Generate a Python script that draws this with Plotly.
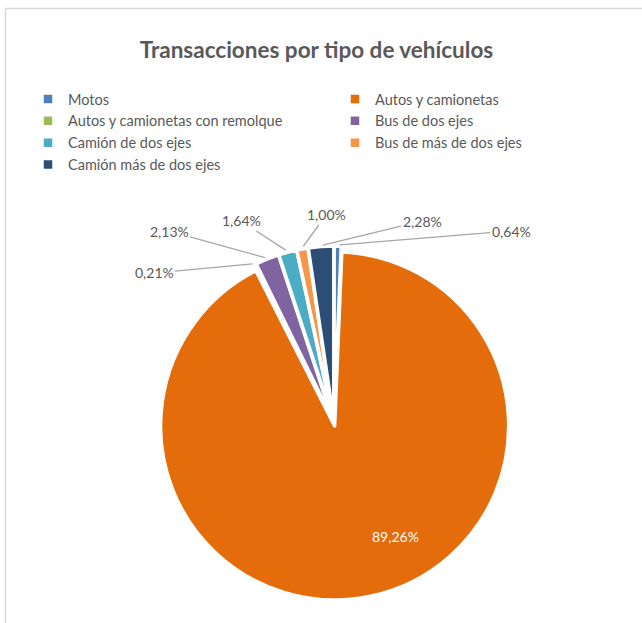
import math
import plotly.graph_objects as go

# ---- data ----
categories = ["Motos", "Autos y camionetas", "Autos y camionetas con remolque",
              "Bus de dos ejes", "Camión de dos ejes", "Bus de más de dos ejes",
              "Camión más de dos ejes"]
values = [0.64, 89.26, 0.21, 2.13, 1.64, 1.00, 2.28]
colors = ["#4F81BD", "#E46C0A", "#9BBB59", "#8064A2", "#4BACC6", "#F79646", "#2C4D75"]
value_labels = [f"{v:.2f}".replace(".", ",") + "%" for v in values]

# ---- layout constants ----
W, H = 642, 623
PULL = 0.017
CX, CY, HALF = 334, 423, 177          # pie domain centre / half size (px)
GREY = "#595959"
FONT = "Lato"
# label centres in px (layout placement of the data labels)
label_pos = [(511, 231), (395, 547), (154, 273), (169, 231), (241, 221), (326, 215), (422, 221)]

dom_x = [(CX - HALF) / W, (CX + HALF) / W]
dom_y = [1 - (CY + HALF) / H, 1 - (CY - HALF) / H]

fig = go.Figure(go.Pie(
    labels=categories, values=values, sort=False, direction="clockwise", rotation=0,
    marker=dict(colors=colors, line=dict(color="white", width=3.5)),
    pull=[PULL] * len(values), textinfo="none", hoverinfo="label+percent",
    domain=dict(x=dom_x, y=dom_y),
))

# geometry of slices to anchor leader lines
r = HALF / (1 + PULL)
total = sum(values)
cum = 0
annotations = []
for i, v in enumerate(values):
    mid = (cum + v / 2) / total * 2 * math.pi
    cum += v
    dx, dy = math.sin(mid), -math.cos(mid)
    pcx, pcy = CX + PULL * r * dx, CY + PULL * r * dy
    tx, ty = label_pos[i]
    if i == 1:
        annotations.append(dict(x=tx / W, y=1 - ty / H, xref="paper", yref="paper",
                                text=value_labels[i], showarrow=False,
                                font=dict(family=FONT, size=14, color="white")))
        continue
    hx, hy = pcx + (r + 1) * dx, pcy + (r + 1) * dy
    annotations.append(dict(x=hx / W, y=1 - hy / H, xref="paper", yref="paper",
                            text=value_labels[i], showarrow=True, arrowhead=0,
                            arrowwidth=1.3, arrowcolor="#A6A6A6", standoff=2,
                            ax=tx - hx, ay=ty - hy, axref="pixel", ayref="pixel",
                            font=dict(family=FONT, size=14, color=GREY)))

fig.update_layout(
    width=W, height=H, margin=dict(l=0, r=0, t=0, b=0),
    paper_bgcolor="white",
    title=dict(text="<b>Transacciones por tipo de vehículos</b>", x=0.493, xanchor="center",
               y=1 - 50 / H, yanchor="middle",
               font=dict(family=FONT, size=22.5, color=GREY)),
    showlegend=True,
    legend=dict(orientation="h", x=53 / W, xanchor="left", y=1 - 83 / H, yanchor="top",
                entrywidth=262, entrywidthmode="pixels", traceorder="normal",
                font=dict(family=FONT, size=14.5, color=GREY), bgcolor="rgba(0,0,0,0)"),
    annotations=annotations,
    shapes=[
        dict(type="line", xref="paper", yref="paper", x0=5.5 / W, x1=1.01, y0=1 - 8.5 / H, y1=1 - 8.5 / H,
             line=dict(color="#D9D9D9", width=1.5)),
        dict(type="line", xref="paper", yref="paper", x0=5.5 / W, x1=5.5 / W, y0=-0.01, y1=1 - 8.5 / H,
             line=dict(color="#D9D9D9", width=1.5)),
    ],
)

fig.write_html("out.html", config={"displayModeBar": False},
               post_script="document.body.style.margin='0';document.body.style.overflow='hidden';")
